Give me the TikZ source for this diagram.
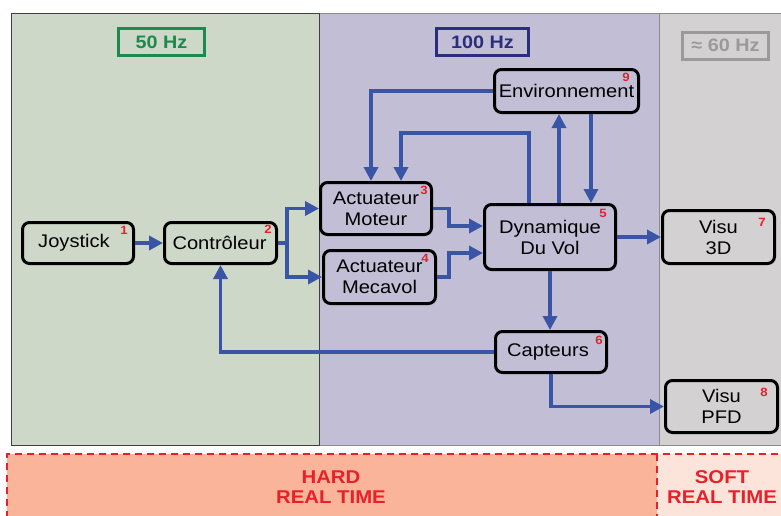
\documentclass[tikz,border=0pt]{standalone}
\usepackage{fontspec}
\setmainfont{Liberation Sans}[FakeStretch=1.1]
\usetikzlibrary{arrows.meta,calc}

\definecolor{panelgreen}{HTML}{CDD8C8}
\definecolor{panelviolet}{HTML}{C1BED6}
\definecolor{panelgray}{HTML}{D3D1D2}
\definecolor{hzgreen}{HTML}{1C8A4C}
\definecolor{hznavy}{HTML}{2B2E7C}
\definecolor{hzgray}{HTML}{9A9A9A}
\definecolor{flowblue}{HTML}{3A54A6}
\definecolor{rtred}{HTML}{E8202A}
\definecolor{hardfill}{HTML}{F9B49A}
\definecolor{softfill}{HTML}{FDE4DA}

\tikzset{
  block/.style={draw=black, line width=3pt, rounded corners=7pt,
    align=center, inner sep=0pt, font=\fontsize{18.3}{21}\selectfont},
  tag/.style={text=rtred, font=\bfseries\fontsize{12}{12}\selectfont, inner sep=0pt},
  hzbox/.style={line width=3pt, inner sep=0pt, minimum width=86pt,
    minimum height=27pt, font=\bfseries\fontsize{18}{18}\selectfont},
  flow/.style={draw=flowblue, line width=3.4pt,
    -{Triangle[length=14pt,width=14pt]}},
  plain/.style={draw=flowblue, line width=3.4pt},
  rtzone/.style={draw=rtred, line width=2.8pt, dash pattern=on 7pt off 5pt},
  rttext/.style={text=rtred, align=center,
    font=\bfseries\fontsize{18.5}{20}\selectfont}
}

\begin{document}
\begin{tikzpicture}[x=1pt,y=-1pt]
\clip (0,0) rectangle (781,515);
\fill[white] (0,0) rectangle (781,515);

% frequency panels
\fill[panelgreen] (11,13) rectangle (319,445);
\fill[panelviolet] (319,13) rectangle (659,445);
\fill[panelgray] (659,13) rectangle (785,445);
\draw[black!45, line width=0.8pt] (319,13) -- (785,13);
\draw[black!45, line width=0.8pt] (319,445) -- (785,445);
\draw[black!45, line width=0.9pt] (659,13) -- (659,445);
\draw[black!75, line width=0.9pt] (11,13) rectangle (319,445);

% panel headers
\node[hzbox, draw=hzgreen, text=hzgreen] (h50) at (161.5,42) {50 Hz};
\node[hzbox, draw=hznavy, text=hznavy, minimum width=92pt] (h100) at (482.5,42) {100 Hz};
\node[hzbox, draw=hzgray, text=hzgray] (h60) at (725.5,45.5) {≈ 60 Hz};

% real-time zones
\fill[hardfill] (7,454) rectangle (657,530);
\fill[softfill] (657,454) rectangle (790,530);
\draw[rtzone] (7,530) -- (7,454) -- (790,454);
\draw[rtzone] (657,454) -- (657,530);
\node[rttext] (hard) at (331,487.5) {HARD\\REAL TIME};
\node[rttext] (soft) at (722,487.5) {SOFT\\REAL TIME};

% blocks
\node[block, minimum width=111pt, minimum height=41pt] (joy) at (78,243) {Joystick\hspace{8pt}};
\node[block, minimum width=112pt, minimum height=41pt] (ctrl) at (220.5,243) {Contrôleur\hspace{2pt}};
\node[block, minimum width=111pt, minimum height=52pt] (mot) at (376,208.5) {Actuateur\\Moteur};
\node[block, minimum width=112pt, minimum height=53pt] (mec) at (379.5,277) {Actuateur\hspace{5pt}\\Mecavol};
\node[block, minimum width=131pt, minimum height=65pt] (dyn) at (550,237) {Dynamique\\Du Vol};
\node[block, minimum width=144pt, minimum height=43pt] (env) at (566.5,91) {Environnement};
\node[block, minimum width=112pt, minimum height=53pt] (v3d) at (718.5,237) {Visu\\3D};
\node[block, minimum width=111pt, minimum height=41pt] (cap) at (551,352) {Capteurs\hspace{6pt}};
\node[block, minimum width=112pt, minimum height=52pt] (pfd) at (721.5,406.5) {Visu\\PFD};

% block numbers
\node[tag] (n1) at (124,230) {1};
\node[tag] (n2) at (268,229) {2};
\node[tag] (n3) at (424,190) {3};
\node[tag] (n4) at (425,258) {4};
\node[tag] (n5) at (603,213) {5};
\node[tag] (n6) at (599,340) {6};
\node[tag] (n7) at (762,222) {7};
\node[tag] (n8) at (764,392) {8};
\node[tag] (n9) at (626,77) {9};

% signal flow
\draw[flow] (joy.east) -- (ctrl.west);
\coordinate (split) at ($(ctrl.east)+(9,0)$);
\draw[plain] (ctrl.east) -- (split);
\draw[flow] (split) |- (mot.west);
\draw[flow] (split) |- (mec.west);
\draw[flow] (mot.east) -- ++(16,0) |- ([yshift=11pt]dyn.west);
\draw[flow] (mec.east) -- ++(12,0) |- ([yshift=-16pt]dyn.west);
\draw[flow] (env.west) -| ([xshift=-5pt]mot.north);
\draw[flow] ([xshift=-21pt]dyn.north) -- ++(0,-70) -| ([xshift=25pt]mot.north);
\draw[flow] ([xshift=9pt]dyn.north) -- ([xshift=9pt]dyn.north |- env.south);
\draw[flow] ([xshift=41pt]dyn.north |- env.south) -- ([xshift=41pt]dyn.north);
\draw[flow] (dyn.east) -- (v3d.west);
\draw[flow] (dyn.south) -- (dyn.south |- cap.north);
\draw[flow] (cap.west) -| (ctrl.south);
\draw[flow] (cap.south) |- (pfd.west);
\end{tikzpicture}
\end{document}
